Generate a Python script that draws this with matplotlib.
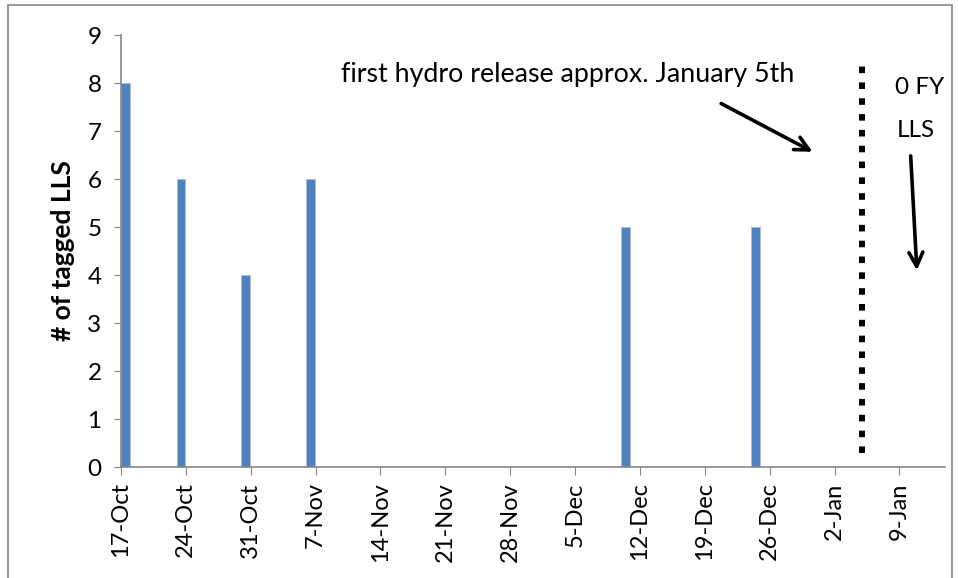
import pandas as pd
import matplotlib.pyplot as plt
import matplotlib.dates as mdates
from matplotlib.patches import Rectangle

plt.rcParams['font.family'] = ['Lato', 'DejaVu Sans']

# weekly counts of tagged LLS
bar_dates = ['2011-10-17', '2011-10-23', '2011-10-30', '2011-11-06', '2011-12-10', '2011-12-24']
bar_counts = [8, 6, 4, 6, 5, 5]

tick_dates = pd.date_range('2011-10-17', '2012-01-09', freq='7D')
tick_labels = ['17-Oct', '24-Oct', '31-Oct', '7-Nov', '14-Nov', '21-Nov', '28-Nov',
               '5-Dec', '12-Dec', '19-Dec', '26-Dec', '2-Jan', '9-Jan']
y_ticks = list(range(0, 10))

release_date = pd.Timestamp('2012-01-05')

fig = plt.figure(figsize=(9.58, 5.78), dpi=100)
ax = fig.add_axes([0.1263, 0.192, 0.8601, 0.7474])

dates = pd.to_datetime(bar_dates)
ax.bar(dates, bar_counts, width=0.95, align='edge', color='#4F81BD',
       edgecolor='#A9C0DE', linewidth=0.6)

# dotted line for the hydro release
ax.plot([release_date, release_date], [0.3, 8.35], color='black', linewidth=4.3,
        linestyle=(0, (1.1, 1.55)), dash_capstyle='butt')

ax.set_xlim(pd.Timestamp('2011-10-17'), pd.Timestamp('2012-01-13 22:00'))
ax.set_ylim(0, 9)
ax.set_xticks(tick_dates)
ax.set_xticklabels(tick_labels, rotation=90, fontsize=17)
ax.set_yticks(y_ticks)
ax.tick_params(axis='y', labelsize=17.5, length=5, color='#868686', pad=9)
ax.tick_params(axis='x', length=6, color='#868686', pad=5)
for s in ['top', 'right']:
    ax.spines[s].set_visible(False)
for s in ['left', 'bottom']:
    ax.spines[s].set_color('#868686')
    ax.spines[s].set_linewidth(1.2)

ax.set_ylabel('# of tagged LLS', fontsize=19, fontweight='bold', labelpad=9)

# annotations
d0 = pd.Timestamp('2011-10-17')
ax.text(d0 + pd.Timedelta(days=48.2), 8.17, 'first hydro release approx. January 5th',
        fontsize=19.3, ha='center', va='center')
ax.annotate('', xy=(d0 + pd.Timedelta(days=74.9), 6.54),
            xytext=(d0 + pd.Timedelta(days=64.5), 7.6),
            arrowprops=dict(arrowstyle='->,head_length=1.0,head_width=0.5', lw=2.6, color='black'))
ax.text(d0 + pd.Timedelta(days=83.5), 7.9, '0 FY', fontsize=17.5, ha='left', va='center')
ax.text(d0 + pd.Timedelta(days=83.7), 7.02, 'LLS', fontsize=17.5, ha='left', va='center')
ax.annotate('', xy=(d0 + pd.Timedelta(days=85.9), 4.04),
            xytext=(d0 + pd.Timedelta(days=85.2), 6.54),
            arrowprops=dict(arrowstyle='->,head_length=1.0,head_width=0.5', lw=2.6, color='black'))

# chart area border
fig.patches.append(Rectangle((8 / 958, -0.05), 944 / 958, 1.05 - 5 / 578, transform=fig.transFigure,
                             fill=False, edgecolor='#868686', linewidth=1.2))

fig.savefig('out.png', dpi=100)
